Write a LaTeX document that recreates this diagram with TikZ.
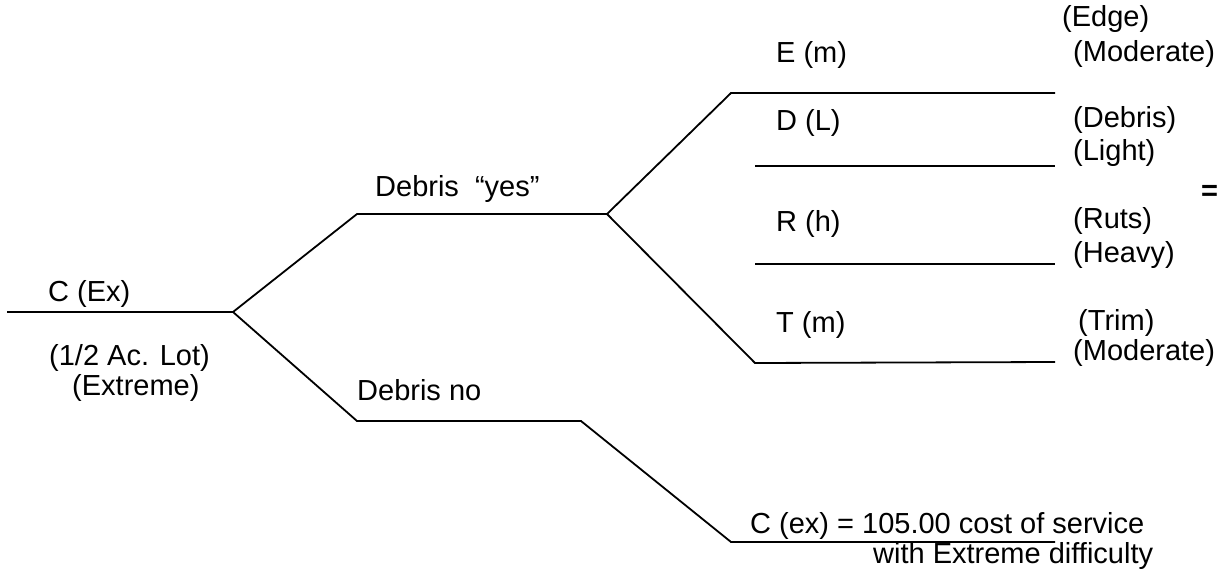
\documentclass[tikz,border=0pt]{standalone}
\usepackage{fontspec}
\setmainfont{Liberation Sans}
\begin{document}
\begin{tikzpicture}[x=1pt,y=-1pt,
  br/.style={line width=1.8pt, line join=miter},
  lbl/.style={anchor=base west, inner sep=0pt, font=\fontsize{29}{34}\selectfont}]
\useasboundingbox (0,0) rectangle (1224,578);
% junction coordinates
\coordinate (a0) at (7,312);
\coordinate (a1) at (233,312);
\coordinate (u0) at (357,214);
\coordinate (u1) at (607,214);
\coordinate (e0) at (731,93);
\coordinate (e1) at (1055,93);
\coordinate (d0) at (755,166);
\coordinate (d1) at (1055,166);
\coordinate (r0) at (755,264);
\coordinate (r1) at (1055,264);
\coordinate (t0) at (755,363);
\coordinate (t1) at (1055,362);
\coordinate (l0) at (357,421);
\coordinate (l1) at (581,421);
\coordinate (b0) at (731,542);
\coordinate (b1) at (1055,542);
% branches
\draw[br] (a0) -- (a1);
\draw[br] (a1) -- (u0) -- (u1);
\draw[br] (u1) -- (e0) -- (e1);
\draw[br] (d0) -- (d1);
\draw[br] (r0) -- (r1);
\draw[br] (u1) -- (t0) -- (t1);
\draw[br] (a1) -- (l0) -- (l1) -- (b0) -- (b1);
% labels
\node[lbl] (cex) at (48,301) {C (Ex)};
\node[lbl] (lot) at (49,365) {(1/2 Ac. Lot)};
\node[lbl] (extr) at (72,395) {(Extreme)};
\node[lbl] (dyes) at (375,196) {Debris\ \ “yes”};
\node[lbl] (dno) at (357,400) {Debris no};
\node[lbl] (em) at (776,63) {E (m)};
\node[lbl] (dl) at (776,130) {D (L)};
\node[lbl] (rh) at (776,231) {R (h)};
\node[lbl] (tm) at (776,332) {T (m)};
\node[lbl] (edge) at (1062,27) {(Edge)};
\node[lbl] (mod1) at (1073,62) {(Moderate)};
\node[lbl] (debr) at (1073,128) {(Debris)};
\node[lbl] (light) at (1073,160) {(Light)};
\node[lbl] (ruts) at (1073,228) {(Ruts)};
\node[lbl] (heavy) at (1073,262) {(Heavy)};
\node[lbl] (trim) at (1078,330) {(Trim)};
\node[lbl] (mod2) at (1073,360) {(Moderate)};
\node[lbl, font=\fontsize{29}{34}\selectfont\bfseries] (eq) at (1201,200) {=};
\node[lbl] (cost) at (750,533) {C (ex) = 105.00 cost of service};
\node[lbl] (diff) at (873,563) {with Extreme difficulty};
\end{tikzpicture}
\end{document}
